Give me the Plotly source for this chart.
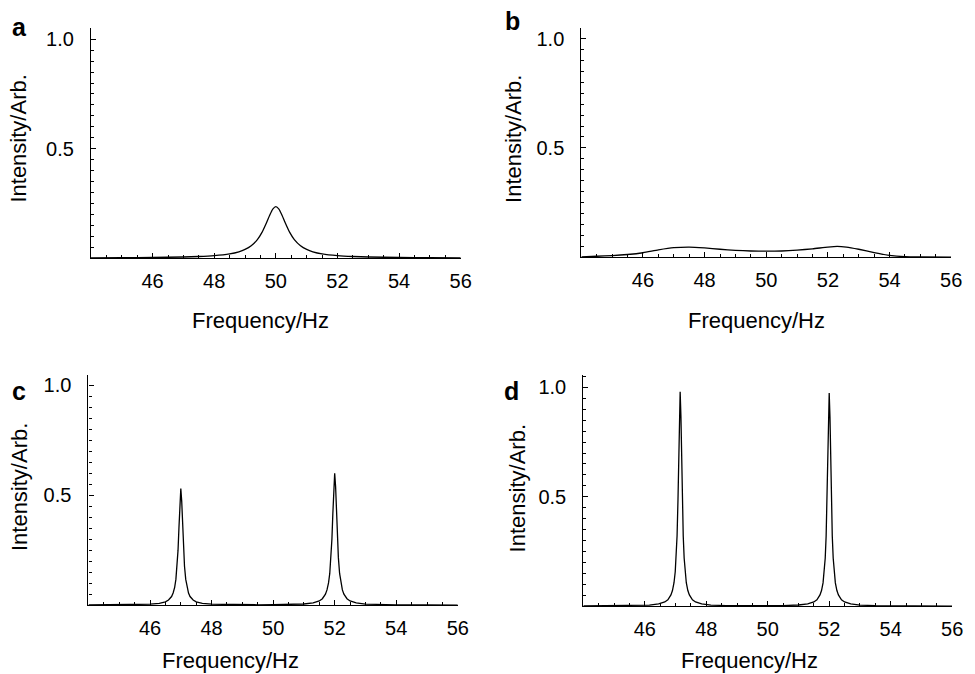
import plotly.graph_objects as go

# ---------------- data ----------------
freq_a = [44.0, 45.0, 46.0, 47.0, 47.5, 48.0, 48.5, 48.8, 49.0, 49.2, 49.4, 49.55, 49.7, 49.8, 49.9,
          50.0,
          50.1, 50.2, 50.3, 50.45, 50.6, 50.8, 51.0, 51.2, 51.5, 52.0, 52.5, 53.0, 54.0, 55.0, 56.0]
int_a = [0.0013, 0.0019, 0.003, 0.0052, 0.0074, 0.0113, 0.0194, 0.029, 0.0396, 0.0565, 0.0846, 0.1175, 0.163, 0.196, 0.224,
         0.235,
         0.224, 0.196, 0.163, 0.1175, 0.0846, 0.0565, 0.0396, 0.029, 0.0194, 0.0113, 0.0074, 0.0052, 0.003, 0.0019, 0.0013]

freq_b = [44.0, 44.5, 45.0, 45.5, 46.0, 46.5, 47.0, 47.5, 48.0, 48.5, 49.0, 49.5, 50.0, 50.5, 51.0,
          51.5, 52.0, 52.3, 52.6, 53.0, 53.5, 54.0, 54.5, 55.0, 56.0]
int_b = [0.001, 0.004, 0.007, 0.012, 0.020, 0.033, 0.043, 0.046, 0.042, 0.036, 0.031, 0.028, 0.027, 0.028, 0.032,
         0.038, 0.046, 0.049, 0.046, 0.036, 0.021, 0.008, 0.002, 0.0005, 0.0]

freq_c = [44.0, 45.0, 45.5, 46.0, 46.3, 46.5, 46.6, 46.7, 46.75, 46.8, 46.84, 46.88, 46.91, 46.94, 46.97,
          47.0,
          47.03, 47.06, 47.09, 47.12, 47.16, 47.2, 47.25, 47.3, 47.4, 47.5, 47.7, 48.0, 48.5, 49.0, 49.5,
          50.0, 50.5, 51.0, 51.3, 51.5, 51.6, 51.7, 51.75, 51.8, 51.84, 51.88, 51.91, 51.94, 51.97,
          52.0,
          52.03, 52.06, 52.09, 52.12, 52.16, 52.2, 52.25, 52.3, 52.4, 52.5, 52.7, 53.0, 53.5, 54.0, 55.0, 56.0]
int_c = [0.0008, 0.0014, 0.002, 0.004, 0.008, 0.015, 0.023, 0.039, 0.055, 0.081, 0.117, 0.177, 0.250, 0.354, 0.471,
         0.530,
         0.471, 0.354, 0.250, 0.177, 0.117, 0.081, 0.055, 0.039, 0.023, 0.015, 0.008, 0.0041, 0.0021, 0.0015, 0.0014,
         0.0016, 0.0025, 0.005, 0.010, 0.019, 0.029, 0.050, 0.069, 0.101, 0.144, 0.216, 0.300, 0.415, 0.540,
         0.600,
         0.540, 0.415, 0.300, 0.216, 0.144, 0.101, 0.069, 0.050, 0.029, 0.019, 0.0098, 0.0048, 0.0022, 0.0012, 0.0005, 0.0003]

freq_d = [44.0, 45.0, 45.65, 46.15, 46.45, 46.65, 46.75, 46.85, 46.9, 46.95, 46.99, 47.02, 47.05, 47.08, 47.1, 47.125,
          47.15,
          47.175, 47.2, 47.22, 47.25, 47.28, 47.31, 47.35, 47.4, 47.45, 47.55, 47.65, 47.85, 48.15,
          48.65, 49.15, 49.6, 50.0, 50.5, 51.0,
          51.3, 51.5, 51.6, 51.7, 51.75, 51.8, 51.84, 51.87, 51.9, 51.93, 51.95, 51.975,
          52.0,
          52.025, 52.05, 52.07, 52.1, 52.13, 52.16, 52.2, 52.25, 52.3, 52.4, 52.5, 52.7, 53.0,
          53.5, 54.0, 55.0, 56.0]
int_d = [0.0005, 0.001, 0.0021, 0.0048, 0.0097, 0.019, 0.029, 0.051, 0.071, 0.107, 0.157, 0.220, 0.322, 0.49, 0.649, 0.869,
         0.98,
         0.869, 0.649, 0.49, 0.322, 0.220, 0.157, 0.107, 0.071, 0.051, 0.029, 0.019, 0.0097, 0.0048,
         0.0025, 0.0018, 0.0016, 0.0018, 0.0025, 0.005,
         0.0097, 0.019, 0.029, 0.051, 0.071, 0.106, 0.156, 0.219, 0.320, 0.488, 0.646, 0.865,
         0.975,
         0.865, 0.646, 0.488, 0.320, 0.219, 0.156, 0.106, 0.071, 0.051, 0.029, 0.019, 0.0097, 0.0048,
         0.0021, 0.0012, 0.0005, 0.0003]

x_tick_vals = [46, 48, 50, 52, 54, 56]
x_tick_text = ["46", "48", "50", "52", "54", "56"]
y_tick_vals = [0.5, 1.0]
y_tick_text = ["0.5", "1.0"]
panel_letters = ["a", "b", "c", "d"]
x_title = "Frequency/Hz"
y_title = "Intensity/Arb."

# ---------------- layout helpers ----------------
W, H = 975, 674
FONT = "Liberation Sans, Arial, Helvetica, sans-serif"


def px(x):
    return x / W


def py(y):
    return 1 - y / H


def xaxis(dom, anchor):
    return dict(domain=dom, anchor=anchor, range=[44, 56], showline=True, linecolor="black", linewidth=1.2,
                showgrid=False, zeroline=False, ticks="inside", ticklen=5, tickwidth=1, tickcolor="black",
                tickmode="array", tickvals=x_tick_vals, ticktext=x_tick_text,
                tickfont=dict(family=FONT, size=20, color="black"), ticklabelstandoff=5,
                minor=dict(ticks="inside", ticklen=3, tickwidth=1, tickcolor="black", tickmode="linear",
                           tick0=44, dtick=0.5, showgrid=False),
                fixedrange=True)


def yaxis(dom, anchor, top):
    return dict(domain=dom, anchor=anchor, range=[0, top], showline=True, linecolor="black", linewidth=1.2,
                showgrid=False, zeroline=False, ticks="inside", ticklen=5, tickwidth=1, tickcolor="black",
                tickmode="array", tickvals=y_tick_vals, ticktext=y_tick_text,
                tickfont=dict(family=FONT, size=20, color="black"), ticklabelstandoff=12,
                minor=dict(ticks="inside", ticklen=3, tickwidth=1, tickcolor="black", tickmode="linear",
                           tick0=0, dtick=0.05, showgrid=False),
                fixedrange=True)


fig = go.Figure()
series = [(freq_a, int_a, "x", "y", "spline"),
          (freq_b, int_b, "x2", "y2", "spline"),
          (freq_c, int_c, "x3", "y3", "linear"),
          (freq_d, int_d, "x4", "y4", "linear")]
for fx, fy, xa, ya, shp in series:
    fig.add_trace(go.Scatter(x=fx, y=fy, xaxis=xa, yaxis=ya, mode="lines",
                             line=dict(color="black", width=1.3, shape=shp, smoothing=0.6),
                             hoverinfo="skip", showlegend=False))

fig.update_layout(
    width=W, height=H, margin=dict(l=0, r=0, t=0, b=0),
    paper_bgcolor="white", plot_bgcolor="white", showlegend=False,
    xaxis=xaxis([px(92), px(466)], "y"),
    yaxis=yaxis([py(257.5), py(26.7)], "x", 1.053),
    xaxis2=xaxis([px(588), px(962)], "y2"),
    yaxis2=yaxis([py(256.5), py(26.7)], "x2", 1.05),
    xaxis3=xaxis([px(89.5), px(463)], "y3"),
    yaxis3=yaxis([py(605), py(375)], "x3", 1.045),
    xaxis4=xaxis([px(590), px(963)], "y4"),
    yaxis4=yaxis([py(606), py(375)], "x4", 1.055),
)

ann = []
# panel letters
for letter, (lx, ly) in zip(panel_letters, [(20, 26), (518, 20), (19, 391), (517, 391)]):
    ann.append(dict(text="<b>%s</b>" % letter, x=px(lx), y=py(ly), xref="paper", yref="paper",
                    xanchor="center", yanchor="middle", showarrow=False,
                    font=dict(family=FONT, size=25, color="black")))
# y titles
for (tx, ty) in [(19, 138), (520, 138), (19, 487), (523, 488)]:
    ann.append(dict(text=y_title, x=px(tx), y=py(ty), xref="paper", yref="paper", textangle=-90,
                    xanchor="center", yanchor="middle", showarrow=False,
                    font=dict(family=FONT, size=22, color="black")))
# x titles
for (tx, ty) in [(263, 320), (765, 320), (233, 660), (758, 660)]:
    ann.append(dict(text=x_title, x=px(tx), y=py(ty), xref="paper", yref="paper",
                    xanchor="center", yanchor="middle", showarrow=False,
                    font=dict(family=FONT, size=22, color="black")))
fig.update_layout(annotations=ann)

fig.write_html("out.html")
